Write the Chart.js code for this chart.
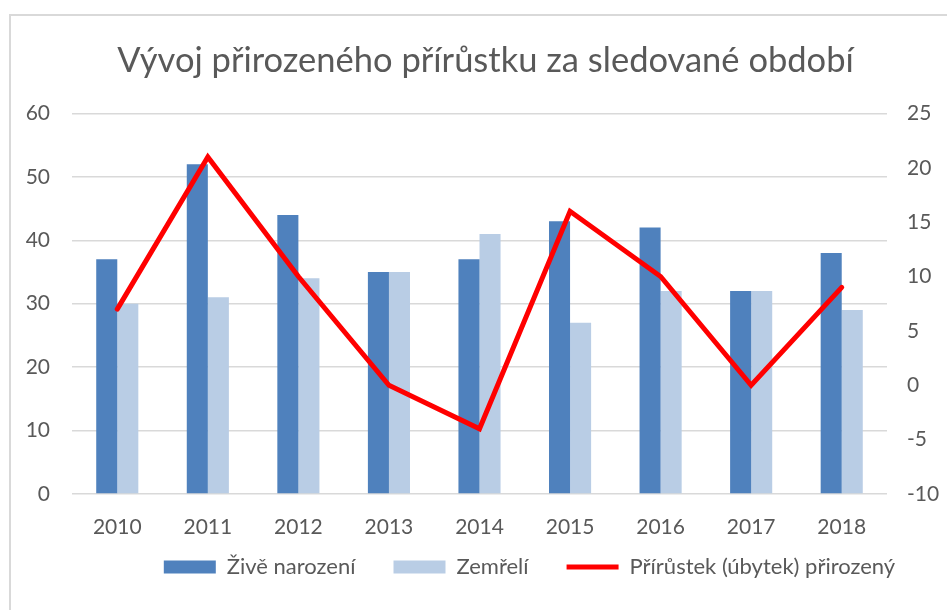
<!DOCTYPE html>
<html><head><meta charset="utf-8">
<script src="https://cdn.jsdelivr.net/npm/chart.js@4/dist/chart.umd.min.js"></script>
<style>
html,body{margin:0;padding:0;background:#fff;overflow:hidden}
#wrap{position:absolute;left:0;top:0;width:947px;height:610px}
#frame{position:absolute;left:9px;top:14px;width:960px;height:620px;border:2px solid #d9d9d9;box-sizing:border-box;pointer-events:none}
</style></head>
<body>
<div id="wrap"><canvas id="c" width="947" height="610"></canvas></div>
<div id="frame"></div>
<script>
const categories = ['2010','2011','2012','2013','2014','2015','2016','2017','2018'];
const zivenarozeni = [37,52,44,35,37,43,42,32,38];
const zemreli = [30,31,34,35,41,27,32,32,29];
const prirustek = [7,21,10,0,-4,16,10,0,9];
const leftTicks = [0,10,20,30,40,50,60];
const rightTicks = [-10,-5,0,5,10,15,20,25];

const FONT = 'Lato, "Open Sans", sans-serif';
const TXT = '#595959';

const boxShift = {
  id:'boxShift',
  afterLayout(chart){
    const l = chart.legend; if(l){ l.left += 56; l.right += 56; l.top -= 22; l.bottom -= 22; }
    const t = chart.titleBlock; if(t){ t.left += 12; t.right += 12; }
  }
};

new Chart(document.getElementById('c'), {
  data: {
    labels: categories,
    datasets: [
      {type:'line', label:'Přírůstek (úbytek) přirozený', data: prirustek, yAxisID:'y1',
       borderColor:'#ff0000', backgroundColor:'#ff0000', borderWidth:5, pointRadius:0,
       pointStyle:'line', borderCapStyle:'round', borderJoinStyle:'miter', tension:0, order:0},
      {type:'bar', label:'Živě narození', data: zivenarozeni, yAxisID:'y',
       backgroundColor:'#4f81bd', pointStyle:'rect', categoryPercentage:0.465, barPercentage:1, order:1},
      {type:'bar', label:'Zemřelí', data: zemreli, yAxisID:'y',
       backgroundColor:'#b9cde5', pointStyle:'rect', categoryPercentage:0.465, barPercentage:1, order:1}
    ]
  },
  plugins:[boxShift],
  options: {
    responsive:false, animation:false,
    layout:{padding:{left:0,right:0,top:0,bottom:0}},
    plugins:{
      title:{display:true, text:'Vývoj přirozeného přírůstku za sledované období', color:TXT,
        font:{family:FONT, size:34.5, weight:'normal'}, padding:{top:40,bottom:32}},
      legend:{position:'bottom', labels:{
        usePointStyle:true, pointStyleWidth:52, boxHeight:13, color:TXT, padding:38,
        font:{family:FONT, size:22},
        sort:(a,b)=>{const o=[1,2,0];return o.indexOf(a.datasetIndex)-o.indexOf(b.datasetIndex);}
      }},
      tooltip:{enabled:false}
    },
    scales:{
      x:{grid:{display:false}, border:{display:false},
         ticks:{color:TXT, font:{family:FONT,size:21}, padding:13},
         afterFit:(s)=>{s.height=46;}},
      y:{position:'left', min:0, max:60,
         afterBuildTicks:(s)=>{s.ticks=leftTicks.map(v=>({value:v}));},
         grid:{color:'#d9d9d9', lineWidth:1.5, drawTicks:false}, border:{display:false},
         ticks:{color:TXT, font:{family:FONT,size:21}, padding:22},
         afterFit:(s)=>{s.width=72;}},
      y1:{position:'right', min:-10, max:25,
         afterBuildTicks:(s)=>{s.ticks=rightTicks.map(v=>({value:v}));},
         grid:{drawOnChartArea:false, drawTicks:false}, border:{display:false},
         ticks:{color:TXT, font:{family:FONT,size:21}, padding:20},
         afterFit:(s)=>{s.width=60;}}
    }
  }
});
</script>
</body></html>
